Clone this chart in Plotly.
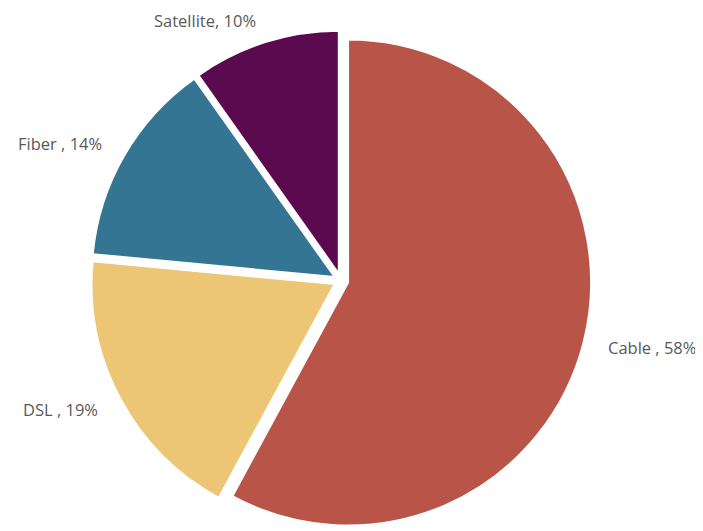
import math
import plotly.graph_objects as go

labels = ["Cable", "DSL", "Fiber", "Satellite"]
label_text = ["Cable ", "DSL ", "Fiber ", "Satellite"]
values = [57.9, 18.6, 13.7, 9.8]
colors = ["#B85548", "#ECC674", "#347593", "#5B0A50"]

# the page body keeps its default 8px margin, so the figure is 8px smaller
W, H = 695, 523
dom_x = [0.0, 0.9583]
dom_y = [0.0, 0.9572]
pull = [0.03, 0.03, 0.03, 0.03]

fig = go.Figure(
    go.Pie(
        labels=labels,
        values=values,
        textinfo="none",
        textposition="none",
        sort=False,
        direction="clockwise",
        rotation=0,
        pull=pull,
        marker=dict(colors=colors, line=dict(color="white", width=2)),
        hoverinfo="skip",
        showlegend=False,
        domain=dict(x=dom_x, y=dom_y),
    )
)

# data labels placed outside each slice along its mid-angle (same geometry plotly uses)
box_w = W * (dom_x[1] - dom_x[0])
box_h = H * (dom_y[1] - dom_y[0])
r = min(box_w, box_h) / 2 / (1 + max(pull))
cx = W * (dom_x[0] + dom_x[1]) / 2
cy = H * (1 - dom_y[0]) - box_h / 2
total = sum(values)
cum = 0.0
for lab, txt, v, p in zip(labels, label_text, values, pull):
    mid = (cum + v / 2) / total * 2 * math.pi
    cum += v
    dx, dy = math.sin(mid), -math.cos(mid)
    dist = r * (p + 1.095)
    px, py = cx + dist * dx, cy + dist * dy
    pct = round(v / total * 100)
    fig.add_annotation(
        x=px / W,
        y=1 - py / H,
        xref="paper",
        yref="paper",
        text=f"{txt}, {pct}%",
        showarrow=False,
        xanchor="left" if dx > 0 else "right",
        yanchor="middle",
        font=dict(family="Open Sans", size=16.5, color="#595959"),
    )

fig.update_layout(
    width=W,
    height=H,
    margin=dict(l=0, r=0, t=0, b=0),
    paper_bgcolor="white",
    plot_bgcolor="white",
    showlegend=False,
)

fig.write_html("out.html")
